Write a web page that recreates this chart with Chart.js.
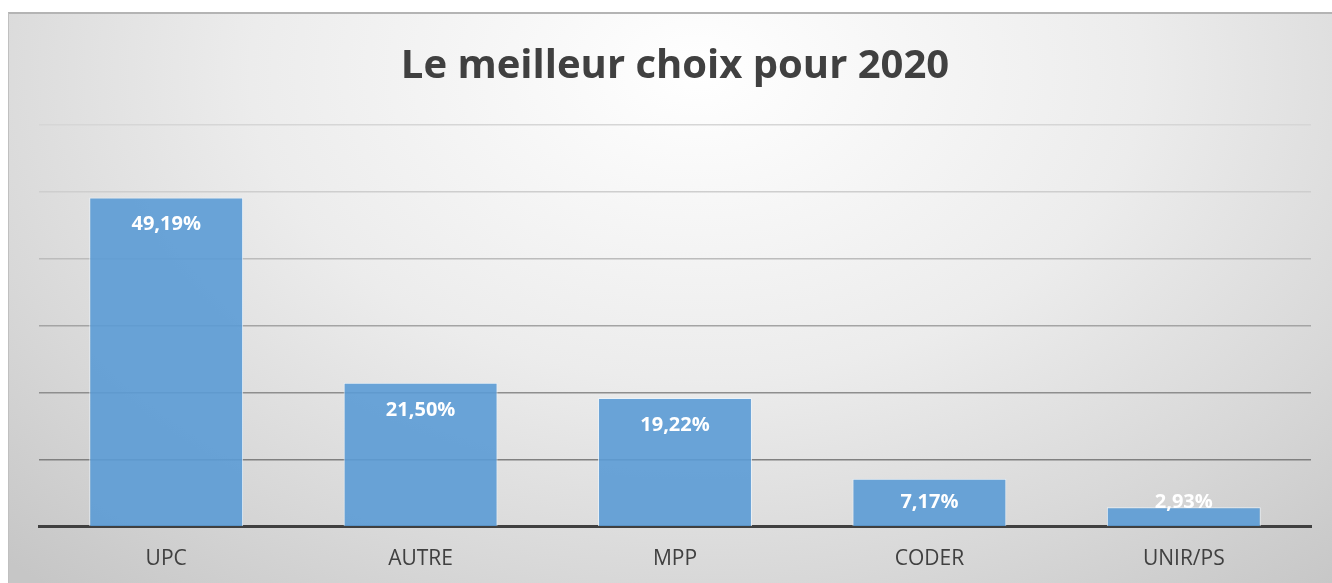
<!DOCTYPE html>
<html>
<head>
<meta charset="utf-8">
<script src="https://cdn.jsdelivr.net/npm/chart.js@4/dist/chart.umd.min.js"></script>
<style>
  body { margin: 0; background: #fff; }
  #frame {
    position: absolute; left: 8px; top: 12px; width: 1324px; height: 571px;
    border-top: 2px solid #b4b4b4; border-left: 1px solid #c0c0c0;
    box-sizing: border-box;
    background: radial-gradient(ellipse 75% 120% at 52% 10%, #ffffff 0%, #ececec 45%, #d8d8d8 75%, #c6c6c6 100%);
  }
  #wrap { position: absolute; left: 0; top: 0; width: 1332px; height: 583px; }
</style>
</head>
<body>
<div id="frame"></div>
<div id="wrap"><canvas id="mycanvas"></canvas></div>
<script>
var titre = "Le meilleur choix pour 2020";
var partis = ["UPC", "AUTRE", "MPP", "CODER", "UNIR/PS"];
var pourcentages = [49.19, 21.50, 19.22, 7.17, 2.93];
var gridColors = ["#7f7f7f", "#808080", "#8e8e8e", "#a4a4a4", "#bcbcbc", "#cecece", "#d6d6d6"];

function fmt(v) {
	return v.toFixed(2).replace(".", ",") + "%";
}

// labels inside the top of each bar, like Excel "inside end"
var valueLabels = {
	id: 'valueLabels',
	afterDatasetsDraw: function(chart) {
		var ctx = chart.ctx;
		var meta = chart.getDatasetMeta(0);
		ctx.save();
		ctx.fillStyle = "#ffffff";
		ctx.font = "bold 20px 'Open Sans'";
		ctx.textAlign = "center";
		ctx.textBaseline = "middle";
		meta.data.forEach(function(bar, i) {
			var y = Math.min(bar.y + 27, bar.base - 24);
			ctx.fillText(fmt(pourcentages[i]), bar.x, y);
		});
		ctx.restore();
	}
};

var ctx = document.getElementById("mycanvas");
var chart = new Chart(ctx, {
	type: 'bar',
	data: {
		labels: partis,
		datasets: [{
			data: pourcentages,
			backgroundColor: "rgba(91,155,213,0.9)",
			borderColor: "rgba(235,243,250,0.85)",
			borderWidth: 1,
			categoryPercentage: 1,
			barPercentage: 0.605
		}]
	},
	options: {
		responsive: true,
		maintainAspectRatio: false,
		animation: false,
		layout: { padding: { left: 39, right: 21, top: 43, bottom: -1 } },
		plugins: {
			legend: { display: false },
			tooltip: { enabled: false },
			title: {
				display: true,
				text: titre,
				color: "#404040",
				font: { family: "'Open Sans'", size: 40, weight: 'bold' },
				padding: { top: 0, bottom: 34 }
			}
		},
		scales: {
			x: {
				grid: { display: false },
				border: { display: true, color: "#404040", width: 3 },
				ticks: {
					color: "#404040",
					padding: 12,
					font: { family: "'Open Sans'", size: 21 }
				}
			},
			y: {
				min: 0,
				max: 60,
				ticks: { display: false, stepSize: 10 },
				border: { display: false },
				grid: {
					drawTicks: false,
					lineWidth: 1.5,
					color: function(c) { return gridColors[c.index] || "#d6d6d6"; }
				}
			}
		}
	},
	plugins: [valueLabels]
});
</script>
</body>
</html>
